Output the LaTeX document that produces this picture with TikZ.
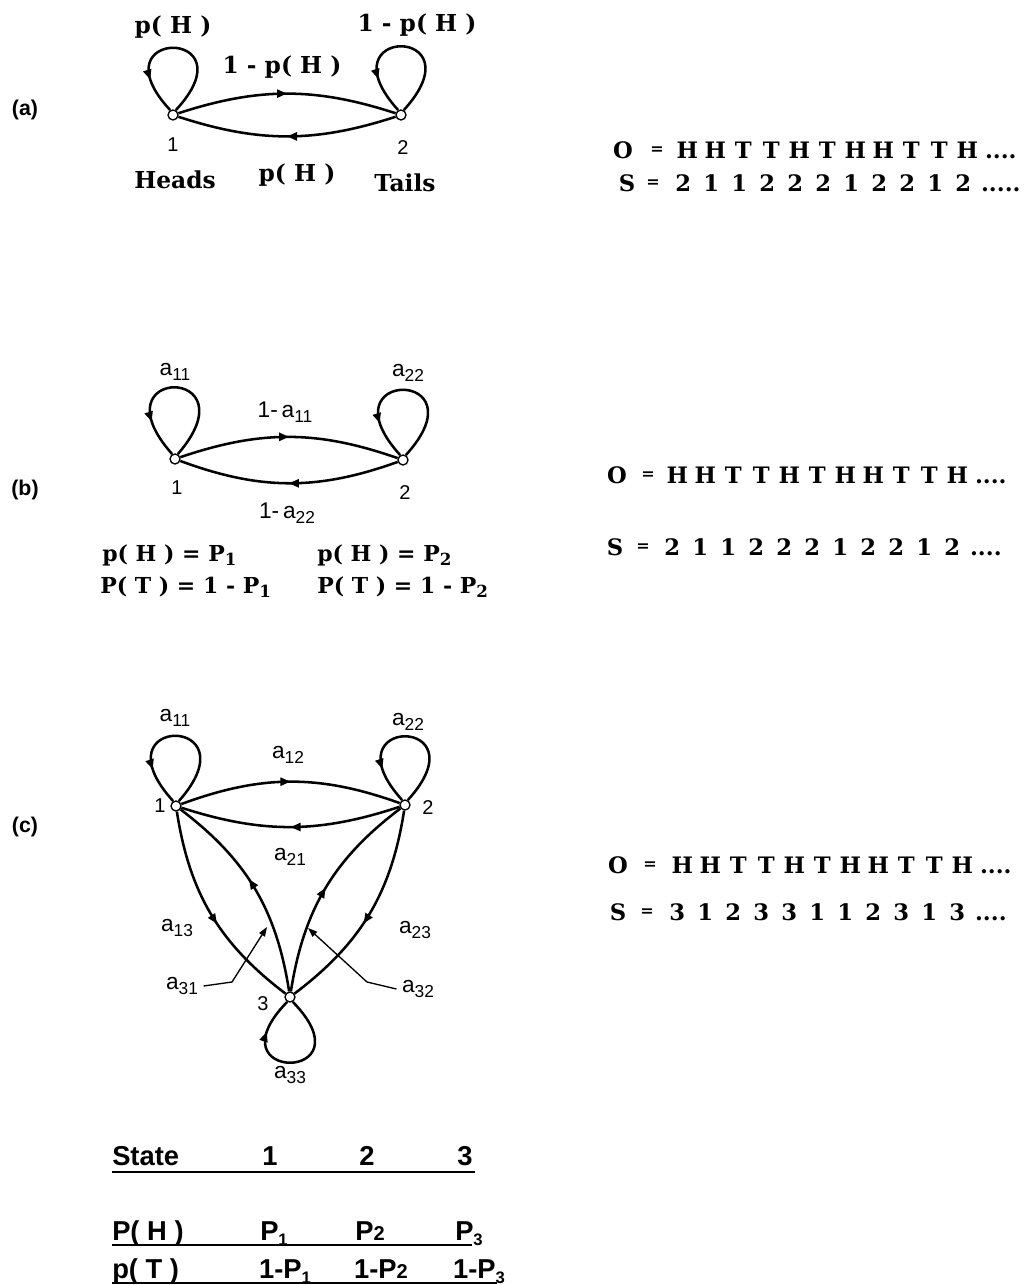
\documentclass[tikz,border=0pt]{standalone}
\usepackage{fontspec}
\setmainfont{DejaVu Serif}
\setsansfont{Liberation Sans}
\usetikzlibrary{arrows.meta,decorations.markings}

% subscript used in the transition labels
\newcommand\sub[1]{\raisebox{-0.45ex}{\fontsize{13}{13}\selectfont #1}}
\newcommand\trans[1]{a\sub{#1}}
% subscript of the coin probabilities
\newcommand\psub[1]{\raisebox{-0.4ex}{\fontsize{12.5}{12.5}\selectfont #1}}
% one evenly spaced symbol of an observation/state sequence
\newcommand\ch[1]{\makebox[21pt]{#1}}

\begin{document}
\begin{tikzpicture}[x=0.75pt,y=0.75pt,
  state/.style={circle,draw,fill=white,line width=1pt,inner sep=0pt,minimum size=7.5pt},
  edge/.style={line width=1.9pt},
  midarrow/.style={postaction={decorate},decoration={markings,
     mark=at position #1 with {\arrow{Triangle[length=7.5pt,width=6pt]}}}},
  leader/.style={line width=1pt,-{Triangle[length=7pt,width=5pt]}},
  ser/.style={inner sep=0pt,font=\bfseries\fontsize{17.5}{17.5}\selectfont},
  sers/.style={inner sep=0pt,font=\bfseries\fontsize{16.5}{16.5}\selectfont},
  seqf/.style={inner sep=0pt,anchor=base,font=\bfseries\fontsize{17}{17}\selectfont},
  eqf/.style={inner sep=0pt,anchor=base,yshift=2.5pt,font=\bfseries\fontsize{12}{12}\selectfont},
  lab/.style={inner sep=0pt,font=\sffamily\fontsize{17}{17}\selectfont},
  num/.style={inner sep=0pt,font=\sffamily\fontsize{15}{15}\selectfont},
  tag/.style={inner sep=0pt,font=\sffamily\bfseries\fontsize{16}{16}\selectfont},
  tab/.style={inner sep=0pt,anchor=base,font=\sffamily\bfseries\fontsize{20.5}{20.5}\selectfont},
  rule/.style={line width=1.8pt}
]
\useasboundingbox (0,0) rectangle (1028,-1285);

% ---------------- (a) coin model ----------------
\node[tag] (taga) at (25,-110) {(a)};
\node[state] (a1) at (173,-115) {};
\node[state] (a2) at (401,-115) {};
\draw[edge,midarrow=0.5] (a1) to[bend left=18] (a2);
\draw[edge,midarrow=0.5] (a2) to[bend left=18] (a1);
\draw[edge,midarrow=0.78] (a1.60) .. controls ([shift={(80,88)}]a1.center) and ([shift={(-80,88)}]a1.center) .. (a1.120);
\draw[edge,midarrow=0.78] (a2.60) .. controls ([shift={(80,90)}]a2.center) and ([shift={(-80,90)}]a2.center) .. (a2.120);
\node[ser] (pa11) at (173,-27) {p( H )};
\node[ser] (pa22) at (417,-25) {1 - p( H )};
\node[ser] (pa12) at (282,-67) {1 - p( H )};
\node[num] (na1) at (173,-145) {1};
\node[num] (na2) at (403,-148) {2};
\node[ser] (heads) at (175,-180) {Heads};
\node[ser] (pa21) at (297,-175) {p( H )};
\node[ser] (tails) at (405,-183) {Tails};

\node[seqf] (oa) at (623,-158) {O};
\node[eqf] (oae) at (657,-158) {=};
\node[seqf,anchor=base west] (oas) at (673,-158) {\ch{H}\ch{H}\ch{T}\ch{T}\ch{H}\ch{T}\ch{H}\ch{H}\ch{T}\ch{T}\ch{H}\,....};
\node[seqf] (sa) at (627,-191) {S};
\node[eqf] (sae) at (653,-191) {=};
\node[seqf,anchor=base west] (sas) at (669,-191) {\ch{2}\ch{1}\ch{1}\ch{2}\ch{2}\ch{2}\ch{1}\ch{2}\ch{2}\ch{1}\ch{2}\,.....};

% ---------------- (b) two biased coins ----------------
\node[tag] (tagb) at (25,-490) {(b)};
\node[state] (b1) at (175,-459) {};
\node[state] (b2) at (403,-460) {};
\draw[edge,midarrow=0.5] (b1) to[bend left=19] (b2);
\draw[edge,midarrow=0.5] (b2) to[bend left=20] (b1);
\draw[edge,midarrow=0.78] (b1.60) .. controls ([shift={(80,94)}]b1.center) and ([shift={(-82,94)}]b1.center) .. (b1.120);
\draw[edge,midarrow=0.78] (b2.60) .. controls ([shift={(82,92)}]b2.center) and ([shift={(-82,92)}]b2.center) .. (b2.120);
\node[lab] (lb11) at (175,-372) {\trans{11}};
\node[lab] (lb22) at (408,-373) {\trans{22}};
\node[lab] (lb12) at (285,-412) {1-\,\trans{11}};
\node[num] (nb1) at (177,-488) {1};
\node[num] (nb2) at (405,-493) {2};
\node[lab] (lb21) at (287,-513) {1-\,\trans{22}};
\node[sers,anchor=west] (ph1) at (102,-555) {p( H ) = P\psub{1}};
\node[sers,anchor=west] (ph2) at (317,-555) {p( H ) = P\psub{2}};
\node[sers,anchor=west] (pt1) at (100,-587) {P( T ) = 1 - P\psub{1}};
\node[sers,anchor=west] (pt2) at (317,-587) {P( T ) = 1 - P\psub{2}};

\node[seqf] (ob) at (617,-483) {O};
\node[eqf] (obe) at (648,-483) {=};
\node[seqf,anchor=base west] (obs) at (663,-483) {\ch{H}\ch{H}\ch{T}\ch{T}\ch{H}\ch{T}\ch{H}\ch{H}\ch{T}\ch{T}\ch{H}\,....};
\node[seqf] (sb) at (615,-555) {S};
\node[eqf] (sbe) at (643,-555) {=};
\node[seqf,anchor=base west] (sbs) at (658,-555) {\ch{2}\ch{1}\ch{1}\ch{2}\ch{2}\ch{2}\ch{1}\ch{2}\ch{2}\ch{1}\ch{2}\,....};

% ---------------- (c) three biased coins ----------------
\node[tag] (tagc) at (25,-827) {(c)};
\node[state] (c1) at (176,-806) {};
\node[state] (c2) at (405,-805) {};
\node[state] (c3) at (290,-997) {};
\draw[edge,midarrow=0.5] (c1) to[bend left=20] (c2);
\draw[edge,midarrow=0.5] (c2) to[bend left=18] (c1);
\draw[edge,midarrow=0.55] (c1) to[bend right=22] (c3);
\draw[edge,midarrow=0.55] (c3) to[bend right=22] (c1);
\draw[edge,midarrow=0.55] (c2) to[bend left=22] (c3);
\draw[edge,midarrow=0.5] (c3) to[bend left=22] (c2);
\draw[edge,midarrow=0.78] (c1.60) .. controls ([shift={(80,92)}]c1.center) and ([shift={(-82,92)}]c1.center) .. (c1.120);
\draw[edge,midarrow=0.78] (c2.60) .. controls ([shift={(80,90)}]c2.center) and ([shift={(-80,90)}]c2.center) .. (c2.120);
\draw[edge,midarrow=0.78] (c3.-60) .. controls ([shift={(82,-86)}]c3.center) and ([shift={(-82,-86)}]c3.center) .. (c3.-120);
\node[lab] (lc11) at (175,-718) {\trans{11}};
\node[lab] (lc22) at (408,-722) {\trans{22}};
\node[lab] (lc12) at (288,-755) {\trans{12}};
\node[lab] (lc21) at (290,-857) {\trans{21}};
\node[num] (nc1) at (160,-806) {1};
\node[num] (nc2) at (428,-808) {2};
\node[num] (nc3) at (263,-1004) {3};
\node[lab] (lc13) at (177,-928) {\trans{13}};
\node[lab] (lc23) at (415,-930) {\trans{23}};
\node[lab] (lc31) at (182,-986) {\trans{31}};
\node[lab] (lc32) at (418,-989) {\trans{32}};
\node[lab] (lc33) at (290,-1075) {\trans{33}};
\coordinate (k31) at (232,-982);
\coordinate (e31) at (267,-927);
\coordinate (k32) at (367,-982);
\coordinate (e32) at (308,-928);
\draw[leader] ([xshift=4pt]lc31.east) -- (k31) -- (e31);
\draw[leader] ([xshift=-4pt]lc32.west) -- (k32) -- (e32);

\node[seqf] (oc) at (618,-873) {O};
\node[eqf] (oce) at (650,-873) {=};
\node[seqf,anchor=base west] (ocs) at (668,-873) {\ch{H}\ch{H}\ch{T}\ch{T}\ch{H}\ch{T}\ch{H}\ch{H}\ch{T}\ch{T}\ch{H}\,....};
\node[seqf] (sc) at (618,-920) {S};
\node[eqf] (sce) at (647,-920) {=};
\node[seqf,anchor=base west] (scs) at (663,-920) {\ch{3}\ch{1}\ch{2}\ch{3}\ch{3}\ch{1}\ch{1}\ch{2}\ch{3}\ch{1}\ch{3}\,....};

% ---------------- output probabilities per state ----------------
\node[tab,anchor=base west] (hstate) at (112,-1165) {State};
\node[tab] (h1) at (270,-1165) {1};
\node[tab] (h2) at (367,-1165) {2};
\node[tab] (h3) at (465,-1165) {3};
\coordinate (r1a) at (112,-1172);
\coordinate (r1b) at (475,-1172);
\draw[rule] (r1a) -- (r1b);
\node[tab,anchor=base west] (hph) at (112,-1240) {P( H )};
\node[tab] (ph1c) at (274,-1240) {P\psub{1}};
\node[tab] (ph2c) at (370,-1240) {P{\fontsize{15}{15}\selectfont 2}};
\node[tab] (ph3c) at (469,-1240) {P\psub{3}};
\coordinate (r2a) at (112,-1245);
\coordinate (r2b) at (472,-1245);
\draw[rule] (r2a) -- (r2b);
\node[tab,anchor=base west] (hpt) at (112,-1278) {p( T )};
\node[tab] (pt1c) at (285,-1278) {1-P\psub{1}};
\node[tab] (pt2c) at (381,-1278) {1-P{\fontsize{15}{15}\selectfont 2}};
\node[tab] (pt3c) at (479,-1278) {1-P\psub{3}};
\coordinate (r3a) at (112,-1283);
\coordinate (r3b) at (497,-1283);
\draw[rule] (r3a) -- (r3b);
\end{tikzpicture}
\end{document}
